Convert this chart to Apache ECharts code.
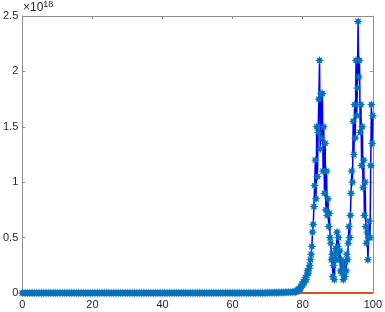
<!DOCTYPE html>
<html><head><meta charset="utf-8">
<script src="https://cdn.jsdelivr.net/npm/echarts@6/dist/echarts.min.js"></script>
<style>html,body{margin:0;padding:0;background:#fff}#c{width:385px;height:312px}</style>
</head><body><div id="c"></div>
<script>
// x positions (flat region step 0.5, active region step 0.2)
const xFlat = [0,0.5,1,1.5,2,2.5,3,3.5,4,4.5,5,5.5,6,6.5,7,7.5,8,8.5,9,9.5,10,10.5,11,11.5,12,12.5,13,13.5,14,14.5,15,15.5,16,16.5,17,17.5,18,18.5,19,19.5,
  20,20.5,21,21.5,22,22.5,23,23.5,24,24.5,25,25.5,26,26.5,27,27.5,28,28.5,29,29.5,30,30.5,31,31.5,32,32.5,33,33.5,34,34.5,35,35.5,36,36.5,37,37.5,38,38.5,39,39.5,
  40,40.5,41,41.5,42,42.5,43,43.5,44,44.5,45,45.5,46,46.5,47,47.5,48,48.5,49,49.5,50,50.5,51,51.5,52,52.5,53,53.5,54,54.5,55,55.5,56,56.5,57,57.5,58,58.5,59,59.5,
  60,60.5,61,61.5,62,62.5,63,63.5,64,64.5,65,65.5,66,66.5,67,67.5,68,68.5,69,69.5,70,70.5,71,71.5,72,72.5,73,73.5,74,74.5,75,75.5,76,76.5,77,77.5];
const yFlat = [0,0,0,0,0,0,0,0,0,0,0,0,0,0,0,0,0,0,0,0,0,0,0,0,0,0,0,0,0,0,0,0,0,0,0,0,0,0,0,0,
  0,0,0,0,0,0,0,0,0,0,0,0,0,0,0,0,0,0,0,0,0,0,0,0,0,0,0,0,0,0,0,0,0,0,0,0,0,0,0,0,
  0,0,0,0,0,0,0,0,0,0,0,0,0,0,0,0,0,0,0,0,0,0,0,0,0,0,0,0,0,0,0,0,0,0,0,0,0,0,0,0,
  0,0,0,0,0,0,0,0,0,0,0,0,0,0,0,0,0,0,0,0.001,0.002,0.002,0.002,0.003,0.003,0.003,0.004,0.004,0.005,0.005,0.006,0.006,0.007,0.007,0.008,0.009];
const xActive = [78,78.2,78.4,78.6,78.8,79,79.2,79.4,79.6,79.8,80,80.2,80.4,80.6,80.8,81,81.2,81.4,81.6,81.8,
  82,82.2,82.4,82.6,82.8,83,83.2,83.4,83.6,83.8,84,84.2,84.4,84.6,84.8,85,85.2,85.4,85.6,85.8,
  86,86.2,86.4,86.6,86.8,87,87.2,87.4,87.6,87.8,88,88.2,88.4,88.6,88.8,89,89.2,89.4,89.6,89.8,
  90,90.2,90.4,90.6,90.8,91,91.2,91.4,91.6,91.8,92,92.2,92.4,92.6,92.8,93,93.2,93.4,93.6,93.8,
  94,94.2,94.4,94.6,94.8,95,95.2,95.4,95.6,95.8,96,96.2,96.4,96.6,96.8,97,97.2,97.4,97.6,97.8,
  98,98.2,98.4,98.6,98.8,99,99.2,99.4,99.6,99.8,100];
// values in units of 1e18
const yActive = [0.01,0.015,0.02,0.025,0.03,0.035,0.04,0.05,0.06,0.08,0.07,0.1,0.09,0.12,0.14,0.12,0.16,0.2,0.18,0.22,
  0.25,0.3,0.35,0.42,0.55,0.62,0.78,0.97,1.2,0.85,1.5,1.05,1.45,1.75,2.1,1.3,1.8,1.4,1.8,1.1,
  1.5,0.9,1.35,0.75,1.1,0.7,0.85,0.6,0.72,0.5,0.45,0.3,0.35,0.15,0.25,0.12,0.3,0.4,0.35,0.55,
  0.42,0.5,0.3,0.38,0.2,0.3,0.18,0.25,0.12,0.2,0.15,0.28,0.2,0.35,0.3,0.45,0.6,0.5,0.7,0.9,
  1.1,1.0,1.55,1.25,1.7,1.4,2.1,1.6,1.85,2.45,1.95,2.1,1.45,1.7,1.15,1.5,0.95,1.2,0.7,1.0,
  0.6,0.45,0.55,0.3,0.5,0.65,0.5,1.15,1.7,1.35,1.6];
const refX = [0, 100];
const refY = [0, 0];
const xTicks = [0,20,40,60,80,100];
const yTicks = [0,0.5,1,1.5,2,2.5];

const blueData = xFlat.map((x,i)=>[x,yFlat[i]]).concat(xActive.map((x,i)=>[x,yActive[i]]));
const refData = refX.map((x,i)=>[x,refY[i]]);
const star = 'path://M10 0L11.91 5.38L17.07 2.93L14.62 8.09L20 10L14.62 11.91L17.07 17.07L11.91 14.62L10 20L8.09 14.62L2.93 17.07L5.38 11.91L0 10L5.38 8.09L2.93 2.93L8.09 5.38Z';
const axisCol = '#8f8f8f';
const lab = {color:'#262626', fontSize:11, fontFamily:'Liberation Sans, Arial, sans-serif'};
const chart = echarts.init(document.getElementById('c'));
chart.setOption({
  animation:false,
  grid:{left:21, right:10, top:16, bottom:19},
  xAxis:[
    {type:'value', min:0, max:100, interval:20, axisLine:{show:true,lineStyle:{color:axisCol}},
     axisTick:{show:true,inside:true,length:3,lineStyle:{color:axisCol}}, splitLine:{show:false},
     axisLabel:Object.assign({margin:6, formatter:v=>String(v)}, lab)},
    {type:'value', position:'top', min:0, max:100, interval:20, axisLine:{show:true,onZero:false,lineStyle:{color:axisCol}},
     axisTick:{show:true,inside:true,length:3,lineStyle:{color:axisCol}}, splitLine:{show:false}, axisLabel:{show:false}}
  ],
  yAxis:[
    {type:'value', min:0, max:2.5, interval:0.5, axisLine:{show:true,lineStyle:{color:axisCol}},
     axisTick:{show:true,inside:true,length:3,lineStyle:{color:axisCol}}, splitLine:{show:false},
     axisLabel:Object.assign({margin:4, formatter:v=>String(v)}, lab)},
    {type:'value', position:'right', min:0, max:2.5, interval:0.5, axisLine:{show:true,onZero:false,lineStyle:{color:axisCol}},
     axisTick:{show:true,inside:true,length:3,lineStyle:{color:axisCol}}, splitLine:{show:false}, axisLabel:{show:false}}
  ],
  series:[
    {type:'line', data:blueData, clip:false, symbol:star, symbolSize:9, showAllSymbol:true,
     lineStyle:{color:'#0000ff', width:1.5}, itemStyle:{color:'#0072bd'}},
    {type:'line', data:refData, clip:false, symbol:'none', lineStyle:{color:'#d95319', width:2}}
  ],
  graphic:[{type:'text', left:23, top:0, style:{rich:{a:{fontSize:12,fill:'#262626',fontFamily:'Liberation Sans, Arial, sans-serif'},b:{fontSize:9,fill:'#262626',fontFamily:'Liberation Sans, Arial, sans-serif',verticalAlign:'top',padding:[0,0,6,0]}}, text:'{a|×10}{b|18}'}}]
});
</script></body></html>
